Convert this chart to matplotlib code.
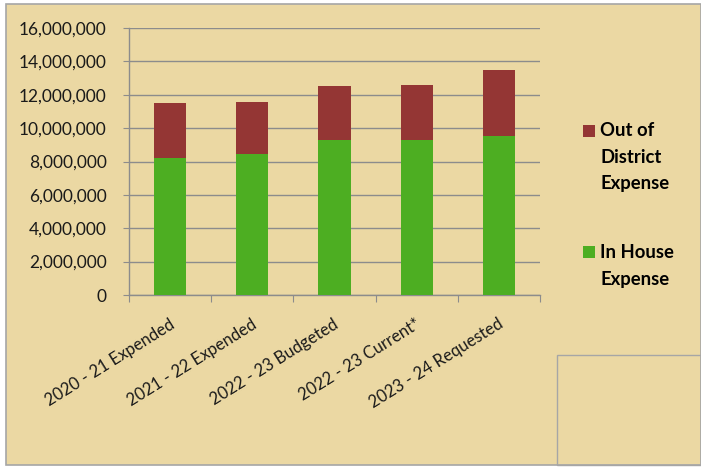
import matplotlib.pyplot as plt
from matplotlib.patches import Rectangle
from matplotlib.ticker import FuncFormatter

categories = ['2020 - 21 Expended', '2021 - 22 Expended', '2022 - 23 Budgeted',
              '2022 - 23 Current*', '2023 - 24 Requested']
in_house = [8200000, 8460000, 9260000, 9280000, 9540000]
out_district = [3280000, 3080000, 3280000, 3320000, 3940000]

bg = '#ebd8a3'
green = '#4dae22'
red = '#943634'
grid_col = '#8c8c8c'
font = 'Lato'

fig = plt.figure(figsize=(7.01, 4.68), dpi=100, facecolor='white')
W, H = 701, 468

# chart area with border
fig.patches.append(Rectangle((6 / W, 3 / H), (W - 6) / W, (H - 7) / H, transform=fig.transFigure,
                             facecolor=bg, edgecolor='#a6a6a6', lw=1.2, zorder=0))
# box in the lower right corner
fig.patches.append(Rectangle((557 / W, 3 / H), (W - 557) / W, (465 - 355) / H, transform=fig.transFigure,
                             facecolor='none', edgecolor='#a6a6a6', lw=1.0, zorder=1))

ax = fig.add_axes([129 / W, 1 - 295 / H, (540 - 129) / W, (295 - 28) / H], zorder=2)
ax.set_facecolor('none')

x = list(range(len(categories)))
ax.bar(x, in_house, width=0.39, color=green, zorder=3, label='In House\nExpense')
ax.bar(x, out_district, width=0.39, bottom=in_house, color=red, zorder=3,
       label='Out of\nDistrict\nExpense')

ax.set_xlim(-0.5, len(categories) - 0.5)
ax.set_ylim(0, 16000000)
ax.set_yticks(range(0, 16000001, 2000000))
ax.yaxis.set_major_formatter(FuncFormatter(lambda v, p: f'{int(v):,}'))
ax.grid(axis='y', color=grid_col, lw=1.0, zorder=1)

for s in ['top', 'right']:
    ax.spines[s].set_visible(False)
for s in ['left', 'bottom']:
    ax.spines[s].set_color(grid_col)
    ax.spines[s].set_linewidth(1.0)

ax.set_xticks([i - 0.5 for i in range(len(categories) + 1)])
ax.set_xticklabels([])
ax.tick_params(axis='x', length=5, color=grid_col)
ax.tick_params(axis='y', length=4, color=grid_col, labelsize=12.5, pad=12)
for lbl in ax.get_yticklabels():
    lbl.set_fontfamily(font)
    lbl.set_color('#1a1a1a')

for i, c in enumerate(categories):
    ax.annotate(c, xy=(i, 0), xycoords=('data', 'axes fraction'), xytext=(2, -20),
                textcoords='offset points', rotation=32, rotation_mode='anchor',
                ha='right', va='center', fontsize=12, family=font, color='#1a1a1a')

# legend drawn by hand
fig.patches.append(Rectangle((583 / W, 1 - 137 / H), 12 / W, 12 / H, transform=fig.transFigure,
                             facecolor=red, edgecolor='none', zorder=3))
fig.patches.append(Rectangle((583 / W, 1 - 258 / H), 12 / W, 12 / H, transform=fig.transFigure,
                             facecolor=green, edgecolor='none', zorder=3))
fig.text(600 / W, 1 - 122 / H, 'Out of\nDistrict\nExpense', ha='left', va='top',
         fontsize=13.3, fontweight='bold', family=font, linespacing=1.68)
fig.text(600 / W, 1 - 244 / H, 'In House\nExpense', ha='left', va='top',
         fontsize=13.3, fontweight='bold', family=font, linespacing=1.68)

fig.savefig('out.png', dpi=100, facecolor=fig.get_facecolor())
